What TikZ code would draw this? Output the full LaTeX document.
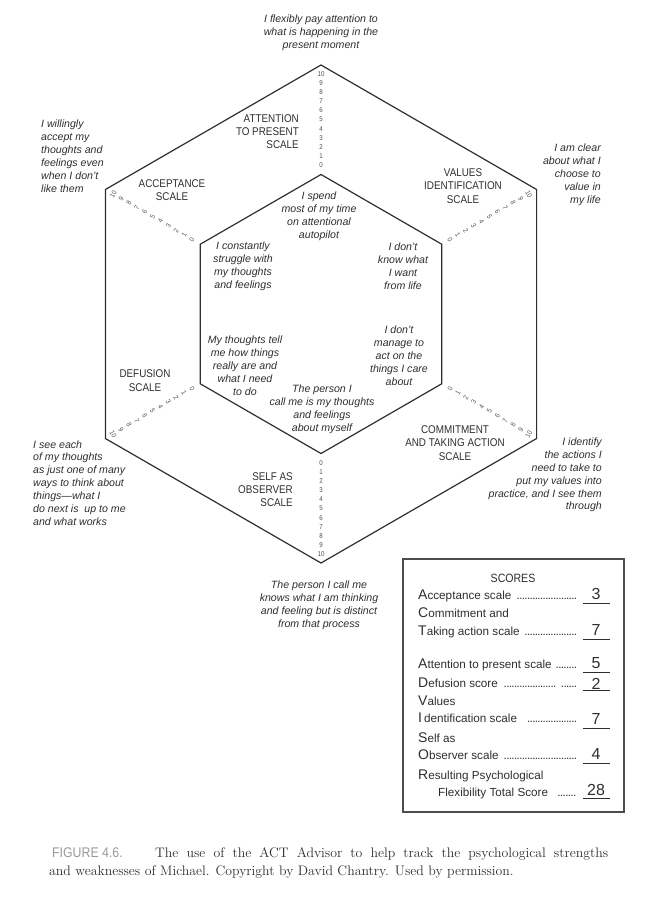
\documentclass[tikz,border=0pt]{standalone}
\usepackage{fontspec}
\usetikzlibrary{calc}
\newfontfamily\labfont[FakeStretch=0.88]{Liberation Sans}
\newfontfamily\stmfont{Liberation Sans}
\newfontfamily\scfont{Liberation Sans}
\definecolor{ink}{HTML}{2E2E2E}
\definecolor{digc}{HTML}{505050}
\definecolor{capgray}{HTML}{999999}
\newcommand\scdots{\leaders\hbox to 2.6pt{\hss.\hss}\hfill}
\newcommand\Ini[1]{{\fontsize{14}{14}\selectfont #1}}
\begin{document}
\begin{tikzpicture}[x=1pt,y=-1pt,
  lab/.style={font=\labfont\fontsize{11.2}{13.3}\selectfont, text=ink, inner sep=0, align=center},
  stm/.style={font=\stmfont\itshape\fontsize{10.6}{12.9}\selectfont, text=ink, inner sep=0, align=center},
  dgt/.style={font=\labfont\fontsize{7}{7}\selectfont, text=digc, inner sep=0},
  hexline/.style={draw=ink, line width=1.2pt, line join=miter},
  sc/.style={font=\scfont\fontsize{11.7}{13}\selectfont, text=ink, inner sep=0, anchor=base west},
  scnum/.style={font=\scfont\fontsize{16}{16}\selectfont, text=ink, inner sep=0, anchor=base},
  uline/.style={draw=ink, line width=0.8pt}]
\useasboundingbox (0,0) rectangle (652,910);
% hexagon vertices
\coordinate (ot) at (321,65);
\coordinate (our) at (536.6,189.5);
\coordinate (olr) at (536.6,438.5);
\coordinate (ob) at (321,563);
\coordinate (oll) at (105.4,438.5);
\coordinate (oul) at (105.4,189.5);
\coordinate (it) at (321,174.5);
\coordinate (iur) at (441.8,244.25);
\coordinate (ilr) at (441.8,383.75);
\coordinate (ib) at (321,453.5);
\coordinate (ill) at (200.2,383.75);
\coordinate (iul) at (200.2,244.25);
\draw[hexline] (ot) -- (our) -- (olr) -- (ob) -- (oll) -- (oul) -- cycle;
\draw[hexline] (it) -- (iur) -- (ilr) -- (ib) -- (ill) -- (iul) -- cycle;
% scales
\foreach \a/\b/\r/\n in {it/ot/0/top, iul/oul/60/acc, iur/our/-60/val, ill/oll/-60/def, ilr/olr/60/com, ib/ob/0/obs}{
  \foreach \i in {0,...,10}{
    \node[dgt, rotate=\r] (d-\n-\i) at ($(\a)!{(9.5+9.1*\i)/109.5}!(\b)$) {\i};
  }
}
% scale labels
\node[lab, align=right, anchor=east] (lbatt) at (299,131.5) {ATTENTION\\TO PRESENT\\SCALE};
\node[lab] (lbacc) at (172,190) {ACCEPTANCE\\SCALE};
\node[lab] (lbval) at (463,186) {VALUES\\IDENTIFICATION\\SCALE};
\node[lab] (lbdef) at (145,380.5) {DEFUSION\\SCALE};
\node[lab] (lbcom) at (455,443) {COMMITMENT\\AND TAKING ACTION\\SCALE};
\node[lab, align=right, anchor=east] (lbobs) at (293,489.5) {SELF AS\\OBSERVER\\SCALE};
% outer statements
\node[stm] (sttop) at (321,33) {I flexibly pay attention to\\what is happening in the\\present moment};
\node[stm, align=left, anchor=west] (stacc) at (41,156) {I willingly\\accept my\\thoughts and\\feelings even\\when I don’t\\like them};
\node[stm, align=right, anchor=east] (stval) at (601,175) {I am clear\\about what I\\choose to\\value in\\my life};
\node[stm, align=left, anchor=west] (stdef) at (33,483) {I see each\\of my thoughts\\as just one of many\\ways to think about\\things—what I\\do next is\ \ up to me\\and what works};
\node[stm, align=right, anchor=east] (stcom) at (602,475) {I identify\\the actions I\\need to take to\\put my values into\\practice, and I see them\\through};
\node[stm] (stobs) at (319,605.5) {The person I call me\\knows what I am thinking\\and feeling but is distinct\\from that process};
% inner statements
\node[stm] (inatt) at (319,216) {I spend\\most of my time\\on attentional\\autopilot};
\node[stm] (inacc) at (243,266.5) {I constantly\\struggle with\\my thoughts\\and feelings};
\node[stm] (inval) at (403,266.5) {I don’t\\know what\\I want\\from life};
\node[stm] (indef) at (245,365.5) {My thoughts tell\\me how things\\really are and\\what I need\\to do};
\node[stm] (incom) at (399,355.5) {I don’t\\manage to\\act on the\\things I care\\about};
\node[stm] (inobs) at (322,409.5) {The person I\\call me is my thoughts\\and feelings\\about myself};
% scores box
\draw[draw=ink!85, line width=1.1pt] (403,559) rectangle (624,812);
\node[sc, anchor=base, font=\labfont\fontsize{12}{12}\selectfont] (sctitle) at (513,582) {SCORES};
\node[sc] (s1) at (418,599) {\makebox[160pt][l]{\Ini{A}cceptance scale \scdots}};
\node[sc] (s2) at (418,617) {\Ini{C}ommitment and};
\node[sc] (s3) at (418,635) {\makebox[160pt][l]{\Ini{T}aking action scale \scdots}};
\node[sc] (s4) at (418,668) {\makebox[160pt][l]{\Ini{A}ttention to present scale \scdots}};
\node[sc] (s5) at (418,687) {\makebox[160pt][l]{\Ini{D}efusion score \hspace{2pt}\scdots\hspace{3pt}\hbox to 17pt{\scdots}}};
\node[sc] (s6) at (418,705) {\Ini{V}alues};
\node[sc] (s7) at (418,722) {\makebox[160pt][l]{\Ini{I}\,dentification scale \hspace{6pt}\scdots}};
\node[sc] (s8) at (418,742) {\Ini{S}elf as};
\node[sc] (s9) at (418,759) {\makebox[160pt][l]{\Ini{O}bserver scale \scdots}};
\node[sc] (s10) at (418,779) {\Ini{R}esulting Psychological};
\node[sc] (s11) at (438,796) {\makebox[140pt][l]{Flexibility Total Score \hspace{4pt}\scdots}};
\node[scnum] (n1) at (596,599) {3};
\node[scnum] (n2) at (596,635) {7};
\node[scnum] (n3) at (596,668) {5};
\node[scnum] (n4) at (596,689) {2};
\node[scnum] (n5) at (596,724) {7};
\node[scnum] (n6) at (596,759) {4};
\node[scnum] (n7) at (596,795) {28};
\foreach \y in {603,639,672,690,728,763,798}{\draw[uline] (583,\y) -- (610,\y);}
% caption
\node[anchor=base west, inner sep=0, text=capgray, font=\labfont\fontsize{14}{14}\selectfont] (figlab) at (52,857) {FIGURE 4.6.};
\node[anchor=base west, inner sep=0, text=ink, font=\fontsize{13.8}{18}\selectfont] (cap1) at (155,857) {\makebox[453pt][s]{\addfontfeature{LetterSpace=2.5}The use of the ACT Advisor to help track the psychological strengths}};
\node[anchor=base west, inner sep=0, text=ink, font=\fontsize{13.8}{18}\selectfont] (cap2) at (49,875) {and weaknesses of Michael. Copyright by David Chantry. Used by permission.};
\end{tikzpicture}
\end{document}
